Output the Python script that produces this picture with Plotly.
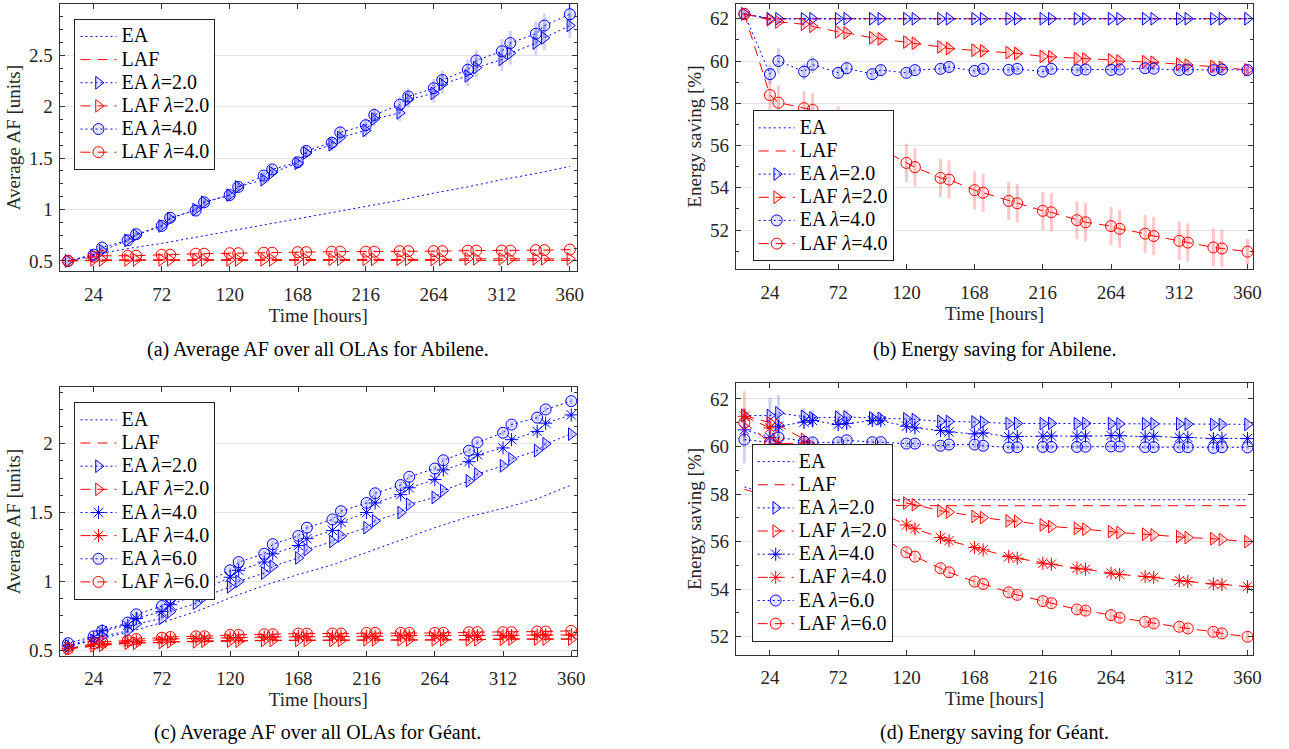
import plotly.graph_objects as go

# ---------------- data ----------------
T = [6, 24, 30, 48, 54, 72, 78, 96, 102, 120, 126, 144, 150, 168, 174, 192, 198,
     216, 222, 240, 246, 264, 270, 288, 294, 312, 318, 336, 342, 360]
TB = [6, 24, 48, 72, 96, 120, 144, 168, 192, 216, 240, 264, 288, 312, 336, 360]
X_TICKS = [24, 72, 120, 168, 216, 264, 312, 360]

# (a) Average AF, Abilene
A_EA = [0.50, 0.56, 0.62, 0.67, 0.73, 0.79, 0.85, 0.91, 0.97, 1.03, 1.09, 1.16, 1.22, 1.29, 1.35, 1.42]
A_LAF = [0.50, 0.505, 0.505, 0.505, 0.505, 0.505, 0.505, 0.505, 0.505, 0.505, 0.505, 0.505, 0.505, 0.505, 0.505, 0.505]
A_EA2 = [0.50, 0.55, 0.60, 0.70, 0.75, 0.84, 0.91, 1.00, 1.07, 1.14, 1.22, 1.29, 1.36, 1.45, 1.55, 1.63, 1.70,
         1.77, 1.88, 1.94, 2.07, 2.13, 2.22, 2.30, 2.38, 2.46, 2.52, 2.62, 2.67, 2.79]
A_LAF2 = [0.50, 0.51, 0.51, 0.51, 0.51, 0.51, 0.51, 0.51, 0.51, 0.51, 0.51, 0.51, 0.51, 0.515, 0.515, 0.515, 0.515,
          0.515, 0.515, 0.515, 0.515, 0.515, 0.515, 0.52, 0.52, 0.52, 0.52, 0.52, 0.52, 0.52]
A_EA4 = [0.50, 0.56, 0.63, 0.70, 0.76, 0.84, 0.92, 0.99, 1.07, 1.14, 1.22, 1.33, 1.39, 1.46, 1.57, 1.65, 1.75,
         1.82, 1.92, 2.02, 2.10, 2.18, 2.26, 2.36, 2.45, 2.54, 2.62, 2.71, 2.79, 2.90]
A_LAF4 = [0.50, 0.54, 0.55, 0.55, 0.55, 0.56, 0.56, 0.57, 0.57, 0.575, 0.575, 0.58, 0.58, 0.585, 0.585, 0.59, 0.59,
          0.59, 0.59, 0.595, 0.595, 0.595, 0.595, 0.60, 0.60, 0.60, 0.60, 0.605, 0.605, 0.61]
A_EA2_ERR = [0.0, 0.02, 0.02, 0.02, 0.02, 0.03, 0.03, 0.03, 0.03, 0.04, 0.04, 0.04, 0.04, 0.05, 0.05, 0.06, 0.06,
             0.07, 0.07, 0.08, 0.08, 0.09, 0.09, 0.10, 0.10, 0.11, 0.11, 0.12, 0.12, 0.12]
A_EA4_ERR = [0.0, 0.02, 0.02, 0.02, 0.02, 0.03, 0.03, 0.03, 0.03, 0.04, 0.04, 0.04, 0.04, 0.05, 0.05, 0.06, 0.06,
             0.07, 0.07, 0.08, 0.08, 0.09, 0.09, 0.10, 0.10, 0.12, 0.12, 0.12, 0.12, 0.12]
A_LAF_ERR = [0.0, 0.01, 0.01, 0.01, 0.01, 0.01, 0.01, 0.01, 0.01, 0.01, 0.01, 0.01, 0.01, 0.01, 0.01, 0.01, 0.01,
             0.01, 0.01, 0.01, 0.01, 0.01, 0.01, 0.01, 0.01, 0.01, 0.01, 0.01, 0.01, 0.01]

# (b) Energy saving, Abilene
B_EA = [62.23, 62.0, 62.0, 62.0, 62.0, 62.0, 62.0, 62.0, 62.0, 62.0, 62.0, 62.0, 62.0, 62.0, 62.0, 62.0]
B_LAF = [62.23, 62.0, 62.0, 62.0, 62.0, 62.0, 62.0, 62.0, 62.0, 62.0, 62.0, 62.0, 62.0, 62.0, 62.0, 62.0]
B_EA2 = [62.23, 62.0, 62.0, 62.0, 62.0, 62.0, 62.0, 62.0, 62.0, 62.0, 62.0, 62.0, 62.0, 62.0, 62.0, 62.0, 62.0,
         62.0, 62.0, 62.0, 62.0, 62.0, 62.0, 62.0, 62.0, 62.0, 62.0, 62.0, 62.0, 62.0]
B_LAF2 = [62.23, 61.95, 61.85, 61.74, 61.64, 61.38, 61.33, 61.10, 61.05, 60.90, 60.84, 60.67, 60.59, 60.51, 60.48,
          60.40, 60.36, 60.22, 60.20, 60.12, 60.09, 60.05, 60.00, 59.97, 59.94, 59.85, 59.81, 59.74, 59.70, 59.58]
B_EA4 = [62.23, 59.38, 60.00, 59.50, 59.83, 59.44, 59.66, 59.38, 59.57, 59.44, 59.57, 59.63, 59.72, 59.53, 59.63,
         59.58, 59.63, 59.50, 59.63, 59.57, 59.60, 59.58, 59.60, 59.66, 59.64, 59.57, 59.60, 59.57, 59.60, 59.57]
B_LAF4 = [62.23, 58.39, 58.03, 57.77, 57.69, 57.00, 56.80, 56.10, 55.85, 55.18, 54.98, 54.47, 54.39, 53.89, 53.77,
          53.38, 53.27, 52.91, 52.84, 52.47, 52.37, 52.19, 52.06, 51.83, 51.72, 51.49, 51.41, 51.18, 51.13, 50.98]
B_EA2_ERR = [0.03, 0.05, 0.05, 0.05, 0.05, 0.05, 0.05, 0.05, 0.05, 0.05, 0.05, 0.05, 0.05, 0.05, 0.05, 0.05, 0.05,
             0.05, 0.05, 0.05, 0.05, 0.05, 0.05, 0.05, 0.05, 0.05, 0.05, 0.05, 0.05, 0.05]
B_LAF2_ERR = [0.05, 0.15, 0.15, 0.2, 0.2, 0.25, 0.25, 0.3, 0.3, 0.3, 0.3, 0.3, 0.3, 0.3, 0.3, 0.3, 0.3,
              0.3, 0.3, 0.3, 0.3, 0.3, 0.3, 0.3, 0.3, 0.3, 0.3, 0.3, 0.3, 0.3]
B_EA4_ERR = [0.05, 0.45, 0.6, 0.4, 0.4, 0.3, 0.3, 0.25, 0.25, 0.2, 0.2, 0.2, 0.2, 0.15, 0.15, 0.15, 0.15,
             0.15, 0.15, 0.15, 0.15, 0.15, 0.15, 0.15, 0.15, 0.15, 0.15, 0.15, 0.15, 0.15]
B_LAF4_ERR = [0.05, 0.7, 0.8, 0.8, 0.8, 0.85, 0.85, 0.85, 0.85, 0.9, 0.9, 0.9, 0.9, 0.9, 0.9, 0.9, 0.9,
              0.9, 0.9, 0.9, 0.9, 0.9, 0.9, 0.9, 0.9, 0.9, 0.9, 0.9, 0.9, 0.6]

# (c) Average AF, Geant
C_EA = [0.53, 0.57, 0.63, 0.70, 0.78, 0.88, 0.97, 1.05, 1.12, 1.21, 1.30, 1.39, 1.47, 1.53, 1.60, 1.70]
C_LAF = [0.51, 0.53, 0.55, 0.56, 0.565, 0.57, 0.57, 0.57, 0.575, 0.575, 0.575, 0.575, 0.575, 0.58, 0.58, 0.58]
C_EA2 = [0.53, 0.57, 0.60, 0.64, 0.69, 0.73, 0.78, 0.84, 0.89, 0.96, 1.00, 1.06, 1.11, 1.17, 1.23, 1.29, 1.33,
         1.39, 1.44, 1.50, 1.56, 1.61, 1.66, 1.73, 1.78, 1.84, 1.89, 1.95, 2.00, 2.07]
C_LAF2 = [0.51, 0.53, 0.535, 0.55, 0.55, 0.555, 0.56, 0.56, 0.565, 0.565, 0.565, 0.57, 0.57, 0.57, 0.57, 0.57, 0.57,
          0.575, 0.575, 0.575, 0.575, 0.575, 0.575, 0.575, 0.575, 0.58, 0.58, 0.58, 0.58, 0.58]
C_EA4 = [0.53, 0.59, 0.64, 0.68, 0.73, 0.78, 0.83, 0.90, 0.94, 1.03, 1.08, 1.14, 1.20, 1.26, 1.31, 1.37, 1.43,
         1.50, 1.57, 1.63, 1.68, 1.74, 1.81, 1.87, 1.92, 1.97, 2.03, 2.09, 2.15, 2.21]
C_LAF4 = [0.51, 0.54, 0.545, 0.56, 0.565, 0.575, 0.58, 0.585, 0.585, 0.59, 0.59, 0.595, 0.595, 0.60, 0.60, 0.60, 0.60,
          0.60, 0.60, 0.605, 0.605, 0.605, 0.605, 0.605, 0.605, 0.605, 0.605, 0.61, 0.61, 0.61]
C_EA6 = [0.55, 0.60, 0.64, 0.70, 0.76, 0.82, 0.88, 0.93, 0.99, 1.08, 1.14, 1.20, 1.27, 1.33, 1.39, 1.45, 1.51,
         1.57, 1.64, 1.70, 1.76, 1.82, 1.88, 1.95, 2.01, 2.08, 2.14, 2.19, 2.25, 2.31]
C_LAF6 = [0.51, 0.55, 0.56, 0.57, 0.58, 0.59, 0.595, 0.60, 0.60, 0.61, 0.61, 0.615, 0.615, 0.62, 0.62, 0.62, 0.62,
          0.625, 0.625, 0.625, 0.625, 0.625, 0.625, 0.63, 0.63, 0.63, 0.63, 0.635, 0.635, 0.64]
C_EA_ERR = [0.01, 0.02, 0.02, 0.02, 0.02, 0.02, 0.02, 0.02, 0.02, 0.02, 0.02, 0.02, 0.02, 0.02, 0.02, 0.02, 0.02,
            0.02, 0.02, 0.02, 0.02, 0.02, 0.02, 0.02, 0.02, 0.02, 0.02, 0.02, 0.02, 0.02]
C_LAF_ERR = [0.01, 0.01, 0.01, 0.01, 0.01, 0.01, 0.01, 0.01, 0.01, 0.01, 0.01, 0.01, 0.01, 0.01, 0.01, 0.01, 0.01,
             0.01, 0.01, 0.01, 0.01, 0.01, 0.01, 0.01, 0.01, 0.01, 0.01, 0.01, 0.01, 0.01]

# (d) Energy saving, Geant
D_EA = [58.30, 58.00, 57.85, 57.80, 57.77, 57.76, 57.76, 57.76, 57.76, 57.76, 57.76, 57.76, 57.76, 57.76, 57.76, 57.76]
D_LAF = [58.20, 57.90, 57.70, 57.60, 57.55, 57.51, 57.51, 57.51, 57.51, 57.51, 57.51, 57.51, 57.51, 57.51, 57.51, 57.51]
D_EA2 = [61.30, 61.30, 61.41, 61.27, 61.20, 61.23, 61.24, 61.20, 61.18, 61.16, 61.13, 61.06, 61.05, 61.03, 61.02,
         60.96, 60.97, 60.96, 60.97, 60.96, 60.97, 60.96, 60.95, 60.95, 60.95, 60.95, 60.94, 60.92, 60.92, 60.93]
D_LAF2 = [61.30, 61.00, 60.90, 60.30, 60.00, 59.10, 58.80, 58.15, 57.90, 57.62, 57.55, 57.30, 57.24, 57.06, 57.01,
          56.87, 56.85, 56.70, 56.63, 56.56, 56.52, 56.42, 56.38, 56.31, 56.28, 56.21, 56.17, 56.12, 56.09, 56.00]
D_EA4 = [60.70, 60.38, 60.85, 61.02, 61.09, 60.92, 60.97, 61.09, 61.08, 60.85, 60.78, 60.67, 60.61, 60.53, 60.57,
         60.41, 60.42, 60.43, 60.44, 60.43, 60.44, 60.46, 60.45, 60.41, 60.43, 60.38, 60.38, 60.33, 60.34, 60.33]
D_LAF4 = [61.27, 60.78, 60.12, 60.15, 59.60, 58.60, 58.30, 57.50, 57.20, 56.70, 56.54, 56.17, 56.04, 55.75, 55.65,
          55.37, 55.30, 55.09, 55.05, 54.88, 54.84, 54.67, 54.62, 54.53, 54.50, 54.36, 54.32, 54.22, 54.20, 54.11]
D_EA6 = [60.29, 60.17, 60.38, 60.20, 60.17, 60.17, 60.26, 60.18, 60.18, 60.12, 60.12, 60.03, 60.08, 60.08, 60.03,
         59.96, 59.97, 59.98, 59.98, 59.98, 59.99, 60.00, 60.00, 59.97, 59.97, 59.97, 59.97, 59.94, 59.97, 59.96]
D_LAF6 = [61.00, 60.15, 59.90, 58.90, 58.60, 57.70, 57.40, 56.50, 56.20, 55.55, 55.37, 54.88, 54.71, 54.32, 54.22,
          53.87, 53.76, 53.50, 53.41, 53.15, 53.10, 52.91, 52.80, 52.63, 52.56, 52.42, 52.35, 52.21, 52.14, 52.00]
D_EA2_ERR = [0.3, 0.75, 0.75, 0.35, 0.35, 0.3, 0.3, 0.25, 0.25, 0.2, 0.2, 0.2, 0.2, 0.2, 0.2, 0.15, 0.15,
             0.15, 0.15, 0.15, 0.15, 0.15, 0.15, 0.15, 0.15, 0.15, 0.15, 0.15, 0.15, 0.15]
D_EA4_ERR = [0.3, 0.5, 0.5, 0.3, 0.3, 0.25, 0.25, 0.2, 0.2, 0.2, 0.2, 0.15, 0.15, 0.15, 0.15, 0.15, 0.15,
             0.15, 0.15, 0.15, 0.15, 0.15, 0.15, 0.15, 0.15, 0.15, 0.15, 0.15, 0.15, 0.15]
D_EA6_ERR = [1.0, 0.3, 0.3, 0.2, 0.2, 0.15, 0.15, 0.15, 0.15, 0.15, 0.15, 0.15, 0.15, 0.15, 0.15, 0.1, 0.1,
             0.1, 0.1, 0.1, 0.1, 0.1, 0.1, 0.1, 0.1, 0.1, 0.1, 0.1, 0.1, 0.1]
D_LAF2_ERR = [0.3, 0.2, 0.2, 0.15, 0.15, 0.15, 0.15, 0.15, 0.15, 0.15, 0.15, 0.15, 0.15, 0.15, 0.15, 0.15, 0.15,
              0.15, 0.15, 0.15, 0.15, 0.15, 0.15, 0.15, 0.15, 0.15, 0.15, 0.15, 0.15, 0.15]
D_LAF4_ERR = [1.05, 0.3, 0.2, 0.2, 0.2, 0.2, 0.2, 0.2, 0.2, 0.2, 0.2, 0.15, 0.15, 0.15, 0.15, 0.15, 0.15,
              0.15, 0.15, 0.15, 0.15, 0.15, 0.15, 0.15, 0.15, 0.15, 0.15, 0.15, 0.15, 0.15]
D_LAF6_ERR = [0.6, 0.2, 0.2, 0.2, 0.2, 0.2, 0.2, 0.2, 0.2, 0.2, 0.2, 0.2, 0.2, 0.2, 0.2, 0.2, 0.2,
              0.2, 0.2, 0.2, 0.2, 0.2, 0.2, 0.2, 0.2, 0.2, 0.2, 0.2, 0.2, 0.2]

CAPTIONS = ["(a) Average AF over all OLAs for Abilene.",
            "(b) Energy saving for Abilene.",
            "(c) Average AF over all OLAs for Géant.",
            "(d) Energy saving for Géant."]

# ---------------- styling ----------------
W, H = 1289, 749
FONT = "Liberation Serif, Times New Roman, DejaVu Serif, serif"
BLUE, RED = "#0000ff", "#ff0000"
FILL = {BLUE: "rgba(0,0,255,0.10)", RED: "rgba(255,0,0,0.05)"}
ERRC = {BLUE: "rgba(0,0,255,0.18)", RED: "rgba(255,0,0,0.22)"}
DOT, DASH = "2px,3px", "10px,7px"
AXC = "#333333"
TXT = "#262626"

fig = go.Figure()


def lbl(name):
    return '<span style="font-size:20px">' + name + '</span>'


def base(x, y, name, color, dash, ax, lg):
    fig.add_trace(go.Scatter(
        x=x, y=y, name=lbl(name), mode="lines",
        line=dict(color=color, width=1, dash=dash),
        xaxis="x" + ax, yaxis="y" + ax, legend=lg, legendgroup=lg + name,
        showlegend=True, hoverinfo="skip"))


def ser(x, y, err, name, color, dash, symbol, ax, lg):
    mfill = FILL[color] if not symbol.endswith("open") else color
    fig.add_trace(go.Scatter(
        x=x, y=y, name=lbl(name), mode="lines+markers",
        line=dict(color=color, width=1, dash=dash),
        marker=dict(symbol=symbol, size=11, color=mfill, line=dict(color=color, width=1)),
        error_y=dict(type="data", array=err, visible=True, color=ERRC[color], thickness=3, width=0),
        xaxis="x" + ax, yaxis="y" + ax, legend=lg, legendgroup=lg + name,
        hoverinfo="skip"))


# (a)
base(TB, A_EA, "EA", BLUE, DOT, "", "legend")
base(TB, A_LAF, "LAF", RED, DASH, "", "legend")
ser(T, A_EA2, A_EA2_ERR, "EA <i>λ</i>=2.0", BLUE, DOT, "triangle-right", "", "legend")
ser(T, A_LAF2, A_LAF_ERR, "LAF <i>λ</i>=2.0", RED, DASH, "triangle-right", "", "legend")
ser(T, A_EA4, A_EA4_ERR, "EA <i>λ</i>=4.0", BLUE, DOT, "circle", "", "legend")
ser(T, A_LAF4, A_LAF_ERR, "LAF <i>λ</i>=4.0", RED, DASH, "circle", "", "legend")
# (b)
base(TB, B_EA, "EA", BLUE, DOT, "2", "legend2")
base(TB, B_LAF, "LAF", RED, DASH, "2", "legend2")
ser(T, B_EA2, B_EA2_ERR, "EA <i>λ</i>=2.0", BLUE, DOT, "triangle-right", "2", "legend2")
ser(T, B_LAF2, B_LAF2_ERR, "LAF <i>λ</i>=2.0", RED, DASH, "triangle-right", "2", "legend2")
ser(T, B_EA4, B_EA4_ERR, "EA <i>λ</i>=4.0", BLUE, DOT, "circle", "2", "legend2")
ser(T, B_LAF4, B_LAF4_ERR, "LAF <i>λ</i>=4.0", RED, DASH, "circle", "2", "legend2")
# (c)
base(TB, C_EA, "EA", BLUE, DOT, "3", "legend3")
base(TB, C_LAF, "LAF", RED, DASH, "3", "legend3")
ser(T, C_EA2, C_EA_ERR, "EA <i>λ</i>=2.0", BLUE, DOT, "triangle-right", "3", "legend3")
ser(T, C_LAF2, C_LAF_ERR, "LAF <i>λ</i>=2.0", RED, DASH, "triangle-right", "3", "legend3")
ser(T, C_EA4, C_EA_ERR, "EA <i>λ</i>=4.0", BLUE, DOT, "asterisk-open", "3", "legend3")
ser(T, C_LAF4, C_LAF_ERR, "LAF <i>λ</i>=4.0", RED, DASH, "asterisk-open", "3", "legend3")
ser(T, C_EA6, C_EA_ERR, "EA <i>λ</i>=6.0", BLUE, DOT, "circle", "3", "legend3")
ser(T, C_LAF6, C_LAF_ERR, "LAF <i>λ</i>=6.0", RED, DASH, "circle", "3", "legend3")
# (d)
base(TB, D_EA, "EA", BLUE, DOT, "4", "legend4")
base(TB, D_LAF, "LAF", RED, DASH, "4", "legend4")
ser(T, D_EA2, D_EA2_ERR, "EA <i>λ</i>=2.0", BLUE, DOT, "triangle-right", "4", "legend4")
ser(T, D_LAF2, D_LAF2_ERR, "LAF <i>λ</i>=2.0", RED, DASH, "triangle-right", "4", "legend4")
ser(T, D_EA4, D_EA4_ERR, "EA <i>λ</i>=4.0", BLUE, DOT, "asterisk-open", "4", "legend4")
ser(T, D_LAF4, D_LAF4_ERR, "LAF <i>λ</i>=4.0", RED, DASH, "asterisk-open", "4", "legend4")
ser(T, D_EA6, D_EA6_ERR, "EA <i>λ</i>=6.0", BLUE, DOT, "circle", "4", "legend4")
ser(T, D_LAF6, D_LAF6_ERR, "LAF <i>λ</i>=6.0", RED, DASH, "circle", "4", "legend4")


def xdom(l, r):
    return [l / W, r / W]


def ydom(t, b):
    return [1 - b / H, 1 - t / H]


def xax(dom, rng, anchor):
    return dict(domain=dom, range=rng, anchor=anchor, tickvals=X_TICKS,
                ticks="inside", ticklen=5, tickcolor=AXC, showline=True, linecolor=AXC,
                linewidth=1, mirror="ticks", showgrid=False, zeroline=False,
                ticklabelstandoff=6,
                tickfont=dict(family=FONT, size=19, color=TXT),
                title=dict(text="Time [hours]", font=dict(family=FONT, size=19, color=TXT), standoff=3))


def yax(dom, rng, anchor, tv, tt, mdt, m0, title):
    return dict(domain=dom, range=rng, anchor=anchor, tickvals=tv, ticktext=tt,
                ticks="inside", ticklen=5, tickcolor=AXC, showline=True, linecolor=AXC,
                linewidth=1, mirror="ticks", showgrid=True, gridcolor="#e3e3e3", gridwidth=1,
                zeroline=False, ticklabelstandoff=2,
                minor=dict(ticks="inside", ticklen=3, tickcolor=AXC, dtick=mdt, tick0=m0, showgrid=False),
                tickfont=dict(family=FONT, size=19, color=TXT),
                title=dict(text=title, font=dict(family=FONT, size=19, color=TXT), standoff=3))


AF_TV = [0.5, 1, 1.5, 2, 2.5]
AF_TT = ["0.5", "1", "1.5", "2", "2.5"]
ES_TV = [52, 54, 56, 58, 60, 62]
ES_TT = ["52", "54", "56", "58", "60", "62"]


def leg(x, y):
    return dict(x=x / W, y=1 - y / H, xanchor="left", yanchor="top", xref="paper", yref="paper",
                bgcolor="white", bordercolor="#222222", borderwidth=1,
                font=dict(family=FONT, size=15.5, color="black"), traceorder="normal",
                tracegroupgap=0, itemclick=False, itemwidth=36)


fig.update_layout(
    width=W, height=H, autosize=False,
    margin=dict(l=0, r=0, t=0, b=0),
    paper_bgcolor="white", plot_bgcolor="white",
    font=dict(family=FONT, color=TXT),
    xaxis=xax(xdom(60, 581), [0, 365], "y"),
    yaxis=yax(ydom(4, 273), [0.4, 3.0], "x", AF_TV, AF_TT, 0.125, 0.5, "Average AF [units]"),
    xaxis2=xax(xdom(741, 1262), [0, 364], "y2"),
    yaxis2=yax(ydom(4, 271), [50.15, 62.7], "x2", ES_TV, ES_TT, 1, 52, "Energy saving [%]"),
    xaxis3=xax(xdom(60, 581), [0, 364], "y3"),
    yaxis3=yax(ydom(390, 660), [0.46, 2.41], "x3", AF_TV[:4], AF_TT[:4], 0.125, 0.5, "Average AF [units]"),
    xaxis4=xax(xdom(741, 1262), [0, 364], "y4"),
    yaxis4=yax(ydom(386, 659), [51.25, 62.65], "x4", ES_TV, ES_TT, 1, 52, "Energy saving [%]"),
    legend=leg(75, 19),
    legend2=leg(758, 111),
    legend3=leg(75, 405),
    legend4=leg(757, 447),
    showlegend=True,
)

cap_pos = [(320, 352), (1001, 352), (320, 737), (1001, 737)]
for txt, (cx, cy) in zip(CAPTIONS, cap_pos):
    fig.add_annotation(text=txt, x=cx / W, y=1 - cy / H, xref="paper", yref="paper",
                       showarrow=False, xanchor="center", yanchor="middle",
                       font=dict(family=FONT, size=20, color="black"))

fig.write_html("out.html")
